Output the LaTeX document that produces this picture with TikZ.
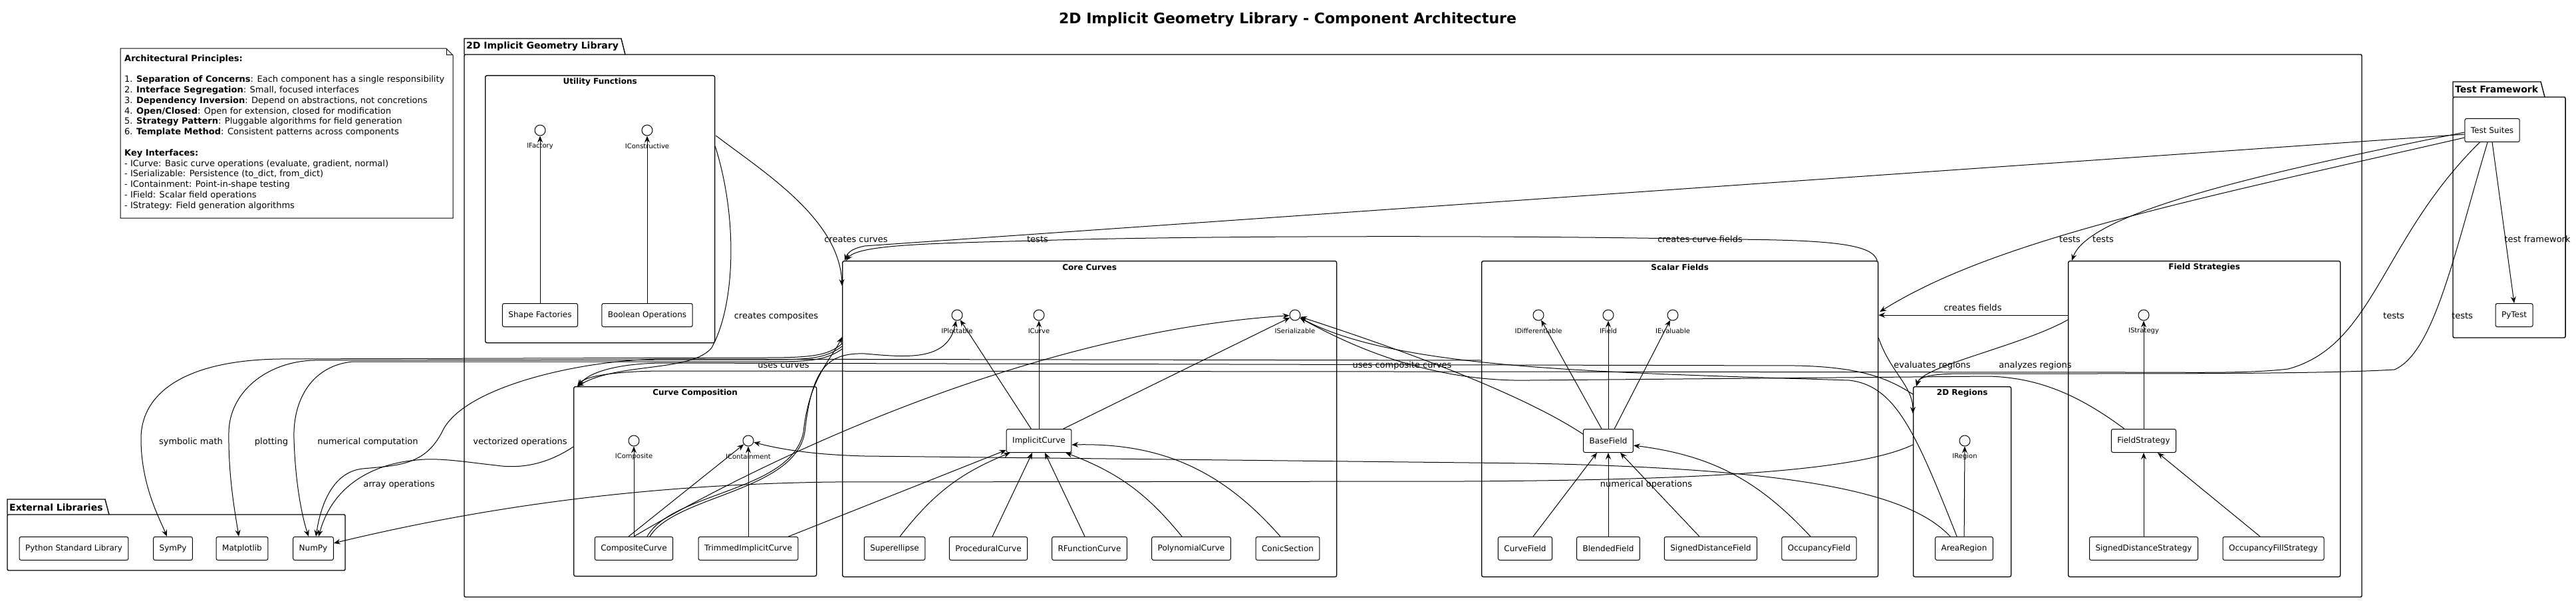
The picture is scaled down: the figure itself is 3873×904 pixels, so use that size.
\documentclass[tikz,border=0pt]{standalone}
\usepackage{fontspec}
\setmainfont{DejaVu Sans}
\usetikzlibrary{arrows.meta, calc}
\tikzset{
  comp/.style={draw, rounded corners=2.5pt, line width=1pt, minimum height=35pt, inner xsep=9pt, font=\fontsize{12}{14}\selectfont},
  iface/.style={circle, draw, line width=1pt, minimum size=16pt, inner sep=0pt},
  ilbl/.style={font=\fontsize{10}{12}\selectfont, inner sep=0pt},
  grp/.style={draw, rounded corners=2.5pt, line width=1.3pt, anchor=north west},
  grplbl/.style={font=\bfseries\fontsize{12}{14}\selectfont, inner sep=0pt},
  pkg/.style={line width=1.4pt},
  pkglbl/.style={font=\bfseries\fontsize{14}{16}\selectfont, anchor=west, inner sep=0pt},
  notetxt/.style={align=left, inner sep=0pt, anchor=north west, font=\fontsize{13}{15.8}\selectfont},
  elbl/.style={font=\fontsize{13}{15}\selectfont, inner sep=1pt},
  dep/.style={-{Stealth[length=10pt,width=8pt,inset=3.5pt]}, line width=1pt}
}

\begin{document}
\begin{tikzpicture}[x=1pt, y=-1pt]
  \useasboundingbox (0,0) rectangle (3873,904);

  % ---- Title ---------------------------------------------------------------
  \node[font=\bfseries\fontsize{22}{26}\selectfont] (title) at (1936,30)
    {2D Implicit Geometry Library - Component Architecture};

  % ---- Note ----------------------------------------------------------------
  \draw[line width=1pt] (181,73) -- (671,73) -- (681,83) -- (681,328) -- (181,328) -- cycle;
  \draw[line width=1pt] (671,73) -- (671,83) -- (681,83);
  \node[notetxt] (notebody) at (187,82) {\textbf{Architectural Principles:}\\[15.8pt]
    1. \textbf{Separation of Concerns}: Each component has a single responsibility\\
    2. \textbf{Interface Segregation}: Small, focused interfaces\\
    3. \textbf{Dependency Inversion}: Depend on abstractions, not concretions\\
    4. \textbf{Open/Closed}: Open for extension, closed for modification\\
    5. \textbf{Strategy Pattern}: Pluggable algorithms for field generation\\
    6. \textbf{Template Method}: Consistent patterns across components\\[15.8pt]
    \textbf{Key Interfaces:}\\
    - ICurve: Basic curve operations (evaluate, gradient, normal)\\
    - ISerializable: Persistence (to\_dict, from\_dict)\\
    - IContainment: Point-in-shape testing\\
    - IField: Scalar field operations\\
    - IStrategy: Field generation algorithms};

  % ---- Packages ------------------------------------------------------------
  \draw[pkg, rounded corners=2pt] (698,82) rectangle (3551,898);
  \draw[pkg] (698,82) -- (698,58) -- (934,58) -- (940,82);
  \node[pkglbl] (lib-t) at (701,70) {2D Implicit Geometry Library};

  \draw[pkg, rounded corners=2pt] (11,774) rectangle (519,858);
  \draw[pkg] (11,774) -- (11,751) -- (158,751) -- (164,774);
  \node[pkglbl] (ext-t) at (14,763) {External Libraries};

  \draw[pkg, rounded corners=2pt] (3688,146) rectangle (3857,508);
  \draw[pkg] (3688,146) -- (3688,123) -- (3820,123) -- (3826,146);
  \node[pkglbl] (test-t) at (3691,134) {Test Framework};

  % ---- Component groups ----------------------------------------------------
  \node[grp, minimum width=345pt, minimum height=402pt] (uf) at (729,113) {};
  \node[grp, minimum width=743pt, minimum height=475pt] (cc) at (1266,392) {};
  \node[grp, minimum width=365pt, minimum height=285pt] (ccomp) at (862,581) {};
  \node[grp, minimum width=596pt, minimum height=475pt] (sfld) at (2227,392) {};
  \node[grp, minimum width=147pt, minimum height=286pt] (reg) at (2876,581) {};
  \node[grp, minimum width=409pt, minimum height=475pt] (fstr) at (3109,392) {};

  \node[grplbl] (uf-t) at ($(uf.north)+(0,10)$) {Utility Functions};
  \node[grplbl] (cc-t) at ($(cc.north)+(0,10)$) {Core Curves};
  \node[grplbl] (ccomp-t) at ($(ccomp.north)+(0,10)$) {Curve Composition};
  \node[grplbl] (sfld-t) at ($(sfld.north)+(0,10)$) {Scalar Fields};
  \node[grplbl] (reg-t) at ($(reg.north)+(0,10)$) {2D Regions};
  \node[grplbl] (fstr-t) at ($(fstr.north)+(0,10)$) {Field Strategies};

  % ---- Interfaces ----------------------------------------------------------
  \foreach \n/\x/\y/\t in {ifac/812/196/IFactory, icons/973/196/IConstructive,
      iplot/1439/474/IPlottable, icurve/1562/474/ICurve, iser/1947/474/ISerializable,
      icomp/953/663/IComposite, icont/1125/663/IContainment,
      idiff/2313/474/IDifferentiable, ifield/2418/474/IField, ieval/2515/474/IEvaluable,
      ireg/2954/663/IRegion, istrat/3223/474/IStrategy}
  {
    \node[iface] (\n) at (\x,\y) {};
    \node[ilbl] (\n-l) at (\x,\y+24) {\t};
  }

  % ---- Components ----------------------------------------------------------
  \node[comp] (shapef) at (812,474) {Shape Factories};
  \node[comp] (boolop) at (973,474) {Boolean Operations};

  \node[comp] (impl) at (1562,663) {ImplicitCurve};
  \node[comp] (superell) at (1345,825) {Superellipse};
  \node[comp] (proc) at (1486,825) {ProceduralCurve};
  \node[comp] (rfunc) at (1638,825) {RFunctionCurve};
  \node[comp] (poly) at (1791,825) {PolynomialCurve};
  \node[comp] (conic) at (1936,825) {ConicSection};

  \node[comp] (compc) at (953,825) {CompositeCurve};
  \node[comp] (trim) at (1125,825) {TrimmedImplicitCurve};

  \node[comp] (basef) at (2418,663) {BaseField};
  \node[comp] (curvef) at (2293,825) {CurveField};
  \node[comp] (blendf) at (2418,825) {BlendedField};
  \node[comp] (sdf) at (2572,825) {SignedDistanceField};
  \node[comp] (occf) at (2735,825) {OccupancyField};

  \node[comp] (area) at (2953,825) {AreaRegion};

  \node[comp] (fstrat) at (3223,663) {FieldStrategy};
  \node[comp] (sds) at (3223,825) {SignedDistanceStrategy};
  \node[comp] (ofs) at (3418,825) {OccupancyFillStrategy};

  \node[comp] (stdlib) at (111,825) {Python Standard Library};
  \node[comp] (sympy) at (260,825) {SymPy};
  \node[comp] (mpl) at (364,825) {Matplotlib};
  \node[comp] (numpy) at (471,825) {NumPy};

  \node[comp] (suites) at (3747,196) {Test Suites};
  \node[comp] (pytest) at (3780,474) {PyTest};

  % ---- Realizations and inheritance ----------------------------------------
  \draw[dep] (shapef) -- (ifac);
  \draw[dep] (boolop) -- (icons);

  \draw[dep] (impl) -- (iplot);
  \draw[dep] (impl) -- (icurve);
  \draw[dep] (impl) -- (iser);
  \draw[dep] ($(superell.north)+(8,0)$) to[bend left=15] ($(impl.south west)+(6,0)$);
  \draw[dep] ($(proc.north)+(6,0)$) -- ($(impl.south)+(-10,0)$);
  \draw[dep] ($(rfunc.north)+(-7,0)$) -- ($(impl.south)+(9,0)$);
  \draw[dep] ($(poly.north)+(-14,0)$) to[bend right=15] ($(impl.south east)+(-9,0)$);
  \draw[dep] ($(conic.north)+(-11,0)$) to[bend right=25] ($(impl.east)+(0,6)$);
  \draw[dep] ($(trim.north east)+(-15,0)$) -- ($(impl.south west)+(0,-4)$);

  \draw[dep] (compc) -- (icomp);
  \draw[dep] (trim) -- (icont);
  \draw[dep] ($(compc.north)+(-8,0)$) -- (icont);

  \draw[dep] (basef) -- (idiff);
  \draw[dep] (basef) -- (ifield);
  \draw[dep] (basef) -- (ieval);
  \draw[dep] ($(curvef.north)+(12,0)$) -- ($(basef.south)+(-17,0)$);
  \draw[dep] (blendf) -- (basef);
  \draw[dep] ($(sdf.north)+(-17,0)$) -- ($(basef.south)+(18,0)$);
  \draw[dep] ($(occf.north)+(-13,0)$) to[bend right=20] ($(basef.east)+(0,7)$);

  \draw[dep] (area) -- (ireg);

  \draw[dep] (fstrat) -- (istrat);
  \draw[dep] (sds) -- (fstrat);
  \draw[dep] ($(ofs.north)+(-20,0)$) -- ($(fstrat.south east)+(-28,0)$);

  % ---- Cross links to interfaces -------------------------------------------
  \draw[dep] (compc.north) .. controls (1150,690) and (1550,500) .. (iser);
  \draw[dep] ($(compc.north)+(24,0)$) .. controls (1015,745) and (1195,740) .. (1210,650)
    .. controls (1220,560) and (1240,530) .. (1300,532)
    .. controls (1360,537) and (1425,545) .. (iplot);
  \draw[dep] ($(area.north west)+(23,0)$) .. controls (2870,740) and (2700,705) .. (2300,697)
    -- (1300,686) .. controls (1220,684) and (1170,675) .. (icont);
  \draw[dep] ($(area.north west)+(33,0)$) .. controls (2880,650) and (2850,580) .. (2780,572)
    .. controls (2400,560) and (2100,555) .. (iser);
  \draw[dep] ($(basef.west)+(0,-10)$) .. controls (2300,600) and (2150,540) .. (iser);
  \draw[dep] ($(fstrat.north west)+(20,0)$) .. controls (3120,590) and (3060,568) .. (2990,566)
    -- (2300,572) .. controls (2150,575) and (2030,520) .. (iser);

  % ---- Group dependencies --------------------------------------------------
  \draw[dep] ($(uf.north east)+(1,91)$) .. controls (1150,260) and (1262,330) .. ($(cc.north west)+(0,38)$);
  \draw[dep] ($(uf.north east)+(0,107)$) .. controls (1110,330) and (1105,460) .. (1070,523)
    .. controls (1040,560) and (930,545) .. ($(ccomp.north west)+(6,0)$);
  \draw[dep] ($(compc.north)+(20,0)$) .. controls (1010,740) and (1190,740) .. (1208,650)
    .. controls (1216,570) and (1250,540) .. ($(cc.north west)+(0,115)$);
  \draw[dep] ($(sfld.north east)+(-2,0)$) .. controls (2815,368) and (2760,360) .. (2577,360)
    .. controls (2300,354) and (1800,354) .. (1556,362)
    .. controls (1400,366) and (1290,368) .. ($(cc.north west)+(6,0)$);
  \draw[dep] ($(suites.west)+(0,6)$) -- (1300,370) .. controls (1285,373) and (1275,378) .. ($(cc.north west)+(4,0)$);

  \draw[dep] ($(suites.west)+(0,11)$) .. controls (3300,300) and (3000,360) .. ($(sfld.north east)+(2,77)$);
  \draw[dep] ($(suites.west)+(0,3)$) .. controls (3400,260) and (3140,320) .. ($(fstr.north west)+(6,0)$);
  \draw[dep] (suites.south) -- (pytest.north);
  \draw[dep] ($(suites.south west)+(23,0)$) .. controls (3580,360) and (3570,520) .. (3440,555)
    .. controls (3380,562) and (3300,560) .. (3200,560) -- (1000,558)
    .. controls (930,558) and (880,565) .. ($(ccomp.north west)+(6,0)$);
  \draw[dep] ($(suites.south)+(-7,0)$) .. controls (3690,380) and (3660,530) .. (3600,556)
    .. controls (3500,562) and (3300,562) .. (3100,562) -- (2950,562)
    .. controls (2900,562) and (2885,568) .. ($(reg.north west)+(5,0)$);

  \draw[dep] ($(fstr.north west)+(0,82)$) -- ($(sfld.north east)+(0,82)$);
  \draw[dep] ($(sfld.north east)+(0,116)$) .. controls (2842,560) and (2876,580) .. ($(reg.north west)+(0,41)$);
  \draw[dep] ($(fstr.north west)+(0,89)$) .. controls (3040,520) and (2892,550) .. ($(reg.north west)+(5,0)$);
  \draw[dep] ($(reg.north west)+(0,12)$) .. controls (2840,570) and (2800,552) .. (2700,550)
    -- (1000,546) .. controls (930,546) and (885,560) .. ($(ccomp.north west)+(8,0)$);

  % ---- External libraries --------------------------------------------------
  \draw[dep] ($(cc.north west)+(0,125)$) .. controls (1245,535) and (1220,538) .. (1150,538)
    -- (420,540) .. controls (280,542) and (212,590) .. (212,660)
    .. controls (212,730) and (240,780) .. ($(sympy.north)+(-9,0)$);
  \draw[dep] ($(cc.north west)+(0,129)$) .. controls (1240,540) and (1215,541) .. (1150,541)
    -- (470,542) .. controls (400,545) and (345,590) .. (344,650)
    .. controls (343,720) and (355,780) .. ($(mpl.north)+(-5,0)$);
  \draw[dep] ($(cc.north west)+(0,133)$) .. controls (1240,543) and (1215,544) .. (1150,544)
    -- (530,544) .. controls (470,550) and (440,600) .. (442,660)
    .. controls (444,730) and (455,780) .. ($(numpy.north)+(-7,0)$);
  \draw[dep] ($(sfld.north west)+(0,150)$) -- (1000,540) .. controls (880,540) and (700,580) .. (666,647)
    .. controls (640,700) and (600,700) .. (545,705)
    .. controls (500,710) and (482,760) .. ($(numpy.north)+(4,0)$);
  \draw[dep] ($(ccomp.north west)+(0,91)$) .. controls (820,700) and (780,705) .. (746,700)
    .. controls (700,695) and (660,688) .. (626,692)
    .. controls (560,698) and (500,730) .. ($(numpy.north)+(8,0)$);
  \draw[dep] ($(reg.north west)+(0,88)$) .. controls (2800,705) and (2600,722) .. (2200,724)
    -- (1250,725) .. controls (1050,728) and (800,745) .. ($(numpy.east)+(0,-8)$);

  % ---- Edge labels ---------------------------------------------------------
  \node[elbl] (l-crcurves) at (1287,360) {creates curves};
  \node[elbl] (l-crcomp) at (1167,476) {creates composites};
  \node[elbl] (l-tests1) at (1560,360) {tests};
  \node[elbl] (l-crfields) at (2556,360) {creates curve fields};
  \node[elbl] (l-uses) at (1178,550) {uses curves};
  \node[elbl] (l-usescomp) at (2108,550) {uses composite curves};
  \node[elbl] (l-symb) at (287,665) {symbolic math};
  \node[elbl] (l-plot) at (408,665) {plotting};
  \node[elbl] (l-numc) at (553,665) {numerical computation};
  \node[elbl] (l-vect) at (782,665) {vectorized operations};
  \node[elbl] (l-array) at (600,729) {array operations};
  \node[elbl] (l-numo) at (2475,729) {numerical operations};
  \node[elbl] (l-fields) at (2966,463) {creates fields};
  \node[elbl] (l-eval) at (2905,550) {evaluates regions};
  \node[elbl] (l-anal) at (3060,550) {analyzes regions};
  \node[elbl] (l-tests2) at (3112,360) {tests};
  \node[elbl] (l-tests3) at (3162,360) {tests};
  \node[elbl] (l-tests4) at (3599,475) {tests};
  \node[elbl] (l-tests5) at (3702,475) {tests};
  \node[elbl] (l-frame) at (3815,360) {test framework};

\end{tikzpicture}
\end{document}
